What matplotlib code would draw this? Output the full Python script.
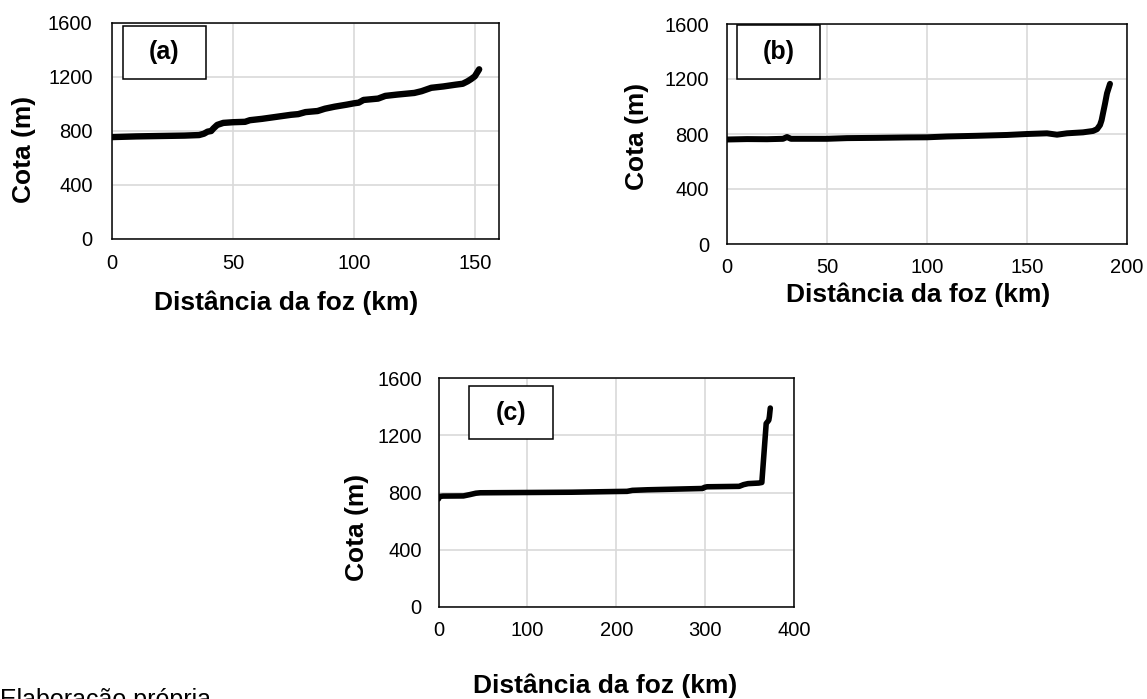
import matplotlib
matplotlib.use("Agg")
import matplotlib.pyplot as plt
from matplotlib.patches import Rectangle

plt.rcParams['font.family'] = ['Liberation Sans', 'DejaVu Sans']

# perfil (a)
dist_a = [0, 10, 20, 30, 36, 38, 39.5, 41, 42, 43.5, 46, 50, 55, 57, 62, 66, 70, 74, 77, 80,
          85, 88, 92, 97, 100, 102, 104, 110, 113, 118, 125, 128, 132, 137, 142, 145, 147,
          148.5, 150, 150.8, 151.8]
cota_a = [755, 760, 763, 766, 770, 780, 795, 800, 820, 845, 860, 865, 868, 880, 890, 900, 910,
          920, 925, 940, 948, 965, 980, 995, 1005, 1010, 1030, 1040, 1060, 1070, 1082, 1095,
          1120, 1130, 1143, 1150, 1168, 1185, 1205, 1228, 1257]

# perfil (b)
dist_b = [0, 10, 20, 28, 30, 32, 40, 50, 60, 75, 90, 100, 110, 125, 140, 150, 160, 165, 170,
          178, 183, 185, 186.5, 187.3, 188, 189, 190, 191.5]
cota_b = [760, 763, 762, 765, 778, 765, 765, 765, 770, 772, 775, 776, 782, 787, 793, 800, 805,
          795, 805, 812, 822, 835, 865, 900, 950, 1020, 1096, 1165]

# perfil (c)
dist_c = [0, 1, 5, 28, 35, 42, 47, 100, 150, 200, 212, 218, 235, 297, 299, 302, 338, 343,
          348, 360, 363.5, 366, 368.4, 371.3, 372, 373]
cota_c = [755, 772, 775, 776, 785, 795, 798, 800, 802, 807, 808, 815, 819, 828, 836, 840, 843,
          855, 862, 866, 870, 1080, 1282, 1305, 1330, 1390]

W, H = 1147, 699
fig = plt.figure(figsize=(W / 100, H / 100), dpi=100)


def px_axes(l, t, r, b):
    return fig.add_axes([l / W, 1 - b / H, (r - l) / W, (b - t) / H])


def estilo(ax, xmax, xstep, ypad, xpad):
    ax.set_xlim(0, xmax)
    ax.set_ylim(0, 1600)
    ax.set_xticks(range(0, xmax + 1, xstep))
    ax.set_yticks(range(0, 1601, 400))
    ax.grid(True, color='#d9d9d9', lw=1.2)
    ax.set_axisbelow(True)
    for s in ax.spines.values():
        s.set_linewidth(1.1)
        s.set_color('black')
    ax.tick_params(length=0, labelsize=14.5)
    ax.tick_params(axis='y', pad=ypad)
    ax.tick_params(axis='x', pad=xpad)


def caixa(ax, x0, y0, w, h, txt):
    ax.add_patch(Rectangle((x0, y0), w, h, transform=ax.transAxes, fill=True,
                           facecolor='white', edgecolor='black', lw=1.1, zorder=5))
    ax.text(x0 + w / 2, y0 + h / 2, txt, transform=ax.transAxes, ha='center', va='center',
            fontsize=18, fontweight='bold', zorder=6)


# (a)
ax_a = px_axes(112, 23, 499, 239)
ax_a.plot(dist_a, cota_a, color='black', lw=4.6, solid_capstyle='round', solid_joinstyle='round')
estilo(ax_a, 160, 50, 14, 11)
caixa(ax_a, 0.028, 0.741, 0.214, 0.245, '(a)')

# (b)
ax_b = px_axes(727, 24, 1127, 244)
ax_b.plot(dist_b, cota_b, color='black', lw=4.3, solid_capstyle='round', solid_joinstyle='round')
estilo(ax_b, 200, 50, 13, 10)
caixa(ax_b, 0.025, 0.75, 0.2075, 0.245, '(b)')

# (c)
ax_c = px_axes(438.5, 378, 794.3, 607)
ax_c.plot(dist_c, cota_c, color='black', lw=4.0, solid_capstyle='round', solid_joinstyle='round')
estilo(ax_c, 400, 100, 12, 10)
caixa(ax_c, 0.0866, 0.732, 0.236, 0.233, '(c)')

# rótulos dos eixos
lab = dict(fontsize=19, fontweight='bold', ha='center', va='center')
fig.text(286 / W, 1 - 303 / H, 'Distância da foz (km)', **lab)
fig.text(918 / W, 1 - 295 / H, 'Distância da foz (km)', **lab)
fig.text(605 / W, 1 - 686 / H, 'Distância da foz (km)', **lab)
fig.text(24 / W, 1 - 149 / H, 'Cota (m)', rotation=90, **lab)
fig.text(637 / W, 1 - 136 / H, 'Cota (m)', rotation=90, **lab)
fig.text(357 / W, 1 - 527 / H, 'Cota (m)', rotation=90, **lab)

# fonte (cortada na borda inferior, como no original)
fig.text(0.0, 1 - 707 / H, 'Elaboração própria', fontsize=18, ha='left', va='baseline')

fig.savefig('out.png', dpi=100)
